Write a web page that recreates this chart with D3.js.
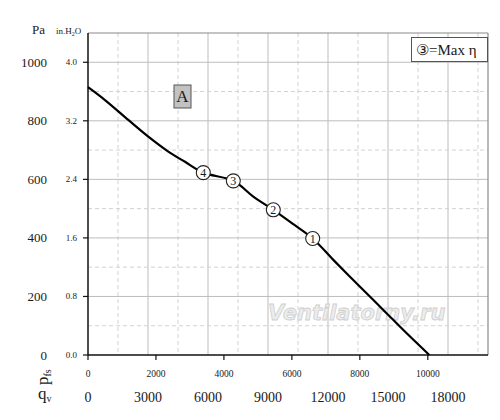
<!DOCTYPE html>
<html>
  <head>
    <meta charset="utf-8">
    <title>Fan curve</title>
    <script src="https://d3js.org/d3.v7.min.js"></script>
    <style>
      body { margin: 0; background: #fff; }
      text { font-family: "Liberation Serif", "DejaVu Serif", serif; fill: #1a1a1a; }
      .grid-major { stroke: #bdbdbd; stroke-width: 1; }
      .grid-minor { stroke: #d2d2d2; stroke-width: 1; stroke-dasharray: 4,3; }
    </style>
  </head>
  <body>
    <div id="chart"></div>
    <script>
      // Curve: airflow q_v (m3/h) vs static pressure (Pa)
      var curveQv = [0, 850, 2015, 3015, 4015, 4850, 5765, 7265, 8265, 9265, 10265, 11235, 12265, 13600, 14765, 15935, 17065];
      var curvePa = [915, 871, 803, 746, 695, 660, 623, 595, 541, 496, 447, 398, 325, 233, 154, 74, 0];

      // numbered operating points
      var pointLabels = ["4", "3", "2", "1"];
      var pointQv = [5765, 7265, 9265, 11235];
      var pointPa = [623, 595, 496, 398];

      // tick labels
      var paTicks = [0, 200, 400, 600, 800, 1000];
      var inTicks = ["0.0", "0.8", "1.6", "2.4", "3.2", "4.0"];
      var qvTicks = [0, 3000, 6000, 9000, 12000, 15000, 18000];
      var cfmTicks = [0, 2000, 4000, 6000, 8000, 10000];

      var width = 500, height = 420;
      // plot frame (note: "top" is reserved on window, so use plot* names)
      var plotL = 88, plotR = 488, plotT = 33, plotB = 355;

      var x = d3.scaleLinear().domain([0, 20000]).range([plotL, plotR]);
      var y = d3.scaleLinear().domain([0, 1100]).range([plotB, plotT]);
      var cfmToM3h = 1.699;

      var svg = d3.select("#chart").append("svg")
        .attr("width", width)
        .attr("height", height);

      // grid
      var g = svg.append("g");
      g.selectAll(".vmin").data(d3.range(1500, 20000, 3000)).enter().append("line")
        .attr("class", "grid-minor")
        .attr("x1", d => x(d)).attr("x2", d => x(d))
        .attr("y1", plotT).attr("y2", plotB);
      g.selectAll(".vmaj").data(d3.range(3000, 20000, 3000)).enter().append("line")
        .attr("class", "grid-major")
        .attr("x1", d => x(d)).attr("x2", d => x(d))
        .attr("y1", plotT).attr("y2", plotB);
      g.selectAll(".hmin").data(d3.range(100, 1100, 200)).enter().append("line")
        .attr("class", "grid-minor")
        .attr("y1", d => y(d)).attr("y2", d => y(d))
        .attr("x1", plotL).attr("x2", plotR);
      g.selectAll(".hmaj").data(d3.range(200, 1100, 200)).enter().append("line")
        .attr("class", "grid-major")
        .attr("y1", d => y(d)).attr("y2", d => y(d))
        .attr("x1", plotL).attr("x2", plotR);

      // frame: top and right in grey
      svg.append("line").attr("x1", plotL).attr("x2", plotR).attr("y1", plotT).attr("y2", plotT)
        .attr("stroke", "#8a8a8a").attr("stroke-width", 1.2);
      svg.append("line").attr("x1", plotR).attr("x2", plotR).attr("y1", plotT).attr("y2", plotB)
        .attr("stroke", "#8a8a8a").attr("stroke-width", 1.2);

      // watermark
      svg.append("text")
        .attr("x", 268).attr("y", 320)
        .style("font-family", "'DejaVu Sans', sans-serif")
        .style("font-style", "italic")
        .style("font-weight", "bold")
        .style("font-size", "21px")
        .style("fill", "#ececec")
        .style("stroke", "#cfcfcf")
        .style("stroke-width", 0.8)
        .text("Ventilatorny.ru");

      // left axis: Pa and in.H2O labels
      var yAxis = svg.append("g");
      yAxis.append("line").attr("x1", plotL).attr("x2", plotL).attr("y1", plotT).attr("y2", plotB)
        .attr("stroke", "#111").attr("stroke-width", 1.5);
      yAxis.selectAll(".tk").data(paTicks).enter().append("line")
        .attr("x1", plotL - 5).attr("x2", plotL)
        .attr("y1", d => y(d)).attr("y2", d => y(d))
        .attr("stroke", "#111").attr("stroke-width", 1.2);
      yAxis.selectAll(".pa").data(paTicks).enter().append("text")
        .attr("x", 47).attr("y", d => y(d) + 4.5)
        .attr("text-anchor", "end")
        .style("font-size", "13px")
        .text(d => d);
      yAxis.selectAll(".inh").data(inTicks).enter().append("text")
        .attr("x", 77).attr("y", (d, i) => y(paTicks[i]) + 3)
        .attr("text-anchor", "end")
        .style("font-size", "9px")
        .text(d => d);
      svg.append("text").attr("x", 32).attr("y", 34).style("font-size", "13px").text("Pa");
      var inLab = svg.append("text").attr("x", 56).attr("y", 34).style("font-size", "9px");
      inLab.append("tspan").text("in.H");
      inLab.append("tspan").attr("dy", 2).style("font-size", "6px").text("2");
      inLab.append("tspan").attr("dy", -2).text("O");

      // bottom axis: cfm ticks and q_v labels
      var xAxis = svg.append("g");
      xAxis.append("line").attr("x1", plotL).attr("x2", plotR).attr("y1", plotB).attr("y2", plotB)
        .attr("stroke", "#111").attr("stroke-width", 1.5);
      xAxis.selectAll(".tk").data(cfmTicks).enter().append("line")
        .attr("x1", d => x(d * cfmToM3h)).attr("x2", d => x(d * cfmToM3h))
        .attr("y1", plotB).attr("y2", plotB + 5)
        .attr("stroke", "#111").attr("stroke-width", 1.2);
      xAxis.selectAll(".cfm").data(cfmTicks).enter().append("text")
        .attr("x", d => x(d * cfmToM3h)).attr("y", 377)
        .attr("text-anchor", "middle")
        .style("font-size", "9.5px")
        .text(d => d);
      xAxis.selectAll(".qv").data(qvTicks).enter().append("text")
        .attr("x", d => x(d)).attr("y", 402)
        .attr("text-anchor", "middle")
        .style("font-size", "14px")
        .text(d => d);

      var pfs = svg.append("text")
        .attr("transform", "translate(48,385) rotate(-90)")
        .style("font-size", "17px");
      pfs.append("tspan").text("p");
      pfs.append("tspan").attr("dy", 3).style("font-size", "10px").text("fs");
      var qv = svg.append("text").attr("x", 38).attr("y", 399).style("font-size", "17px");
      qv.append("tspan").text("q");
      qv.append("tspan").attr("dy", 3).style("font-size", "10px").text("v");

      // fan curve
      var line = d3.line()
        .x(d => x(d[0]))
        .y(d => y(d[1]))
        .curve(d3.curveCatmullRom.alpha(0.5));
      svg.append("path")
        .datum(curveQv.map((q, i) => [q, curvePa[i]]))
        .attr("d", line)
        .attr("fill", "none")
        .attr("stroke", "#000")
        .attr("stroke-width", 2.2);

      // numbered points
      var pts = svg.selectAll(".pt").data(pointLabels).enter().append("g")
        .attr("transform", (d, i) => "translate(" + x(pointQv[i]) + "," + y(pointPa[i]) + ")");
      pts.append("circle").attr("r", 7)
        .attr("fill", "#fff").attr("stroke", "#222").attr("stroke-width", 1.1);
      pts.append("text").attr("text-anchor", "middle").attr("y", 4.5)
        .style("font-size", "12px").text(d => d);

      // "A" box
      svg.append("rect").attr("x", 174).attr("y", 85).attr("width", 17).attr("height", 23)
        .attr("fill", "#c2c2c2").attr("stroke", "#555").attr("stroke-width", 1);
      svg.append("text").attr("x", 182.5).attr("y", 102).attr("text-anchor", "middle")
        .style("font-size", "17px").text("A");

      // legend box
      svg.append("rect").attr("x", 411.5).attr("y", 37.5).attr("width", 76).attr("height", 24)
        .attr("fill", "#fff").attr("stroke", "#555").attr("stroke-width", 1);
      svg.append("text").attr("x", 416).attr("y", 55)
        .style("font-size", "15px").text("③=Max η");
    </script>
  </body>
</html>
